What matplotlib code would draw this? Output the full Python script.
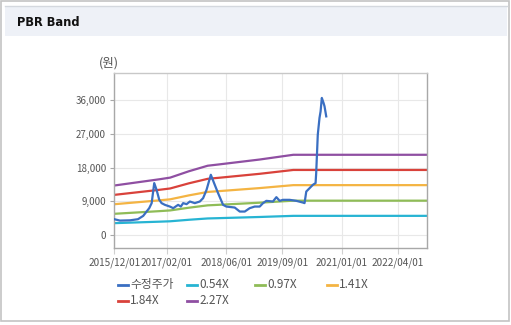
import matplotlib
matplotlib.use('Agg')
import matplotlib.pyplot as plt
import matplotlib.dates as mdates
from matplotlib.patches import Rectangle
from matplotlib.lines import Line2D
import pandas as pd

plt.rcParams['font.family'] = ['Noto Sans CJK KR', 'DejaVu Sans']

# adjusted close price (원)
price_dates = [
    '2015-12-01', '2016-01-16', '2016-04-07', '2016-06-11', '2016-07-24', '2016-09-11',
    '2016-10-01', '2016-10-22', '2016-11-10', '2016-12-02', '2016-12-21', '2017-01-17',
    '2017-02-27', '2017-03-26', '2017-05-05', '2017-05-27', '2017-06-15', '2017-07-13',
    '2017-08-09', '2017-09-18', '2017-10-29', '2017-11-25', '2017-12-23', '2018-01-27',
    '2018-02-28', '2018-03-27', '2018-05-07', '2018-06-03', '2018-08-10', '2018-09-20',
    '2018-10-31', '2018-12-10', '2019-01-20', '2019-03-02', '2019-03-29', '2019-04-25',
    '2019-06-18', '2019-07-16', '2019-08-12', '2019-09-07', '2019-11-01', '2019-12-26',
    '2020-02-17', '2020-03-02', '2020-03-16', '2020-04-12', '2020-05-09', '2020-05-31',
    '2020-06-05', '2020-06-18', '2020-07-02', '2020-07-11', '2020-07-21', '2020-08-04',
    '2020-08-12', '2020-08-26',
]
price_values = [
    4200, 3830, 3900, 4200, 5090, 7150,
    8500, 13860, 12060, 9380, 8500, 8040,
    7580, 7150, 8040, 7580, 8500, 8230,
    8930, 8500, 8930, 9830, 12060, 16080,
    13400, 11180, 8040, 7580, 7320, 6250,
    6250, 7150, 7580, 7580, 8500, 9110,
    8930, 10100, 9110, 9380, 9380, 9110,
    8660, 8500, 11600, 12500, 13400, 13860,
    16530, 26800, 31280, 33050, 36640, 35300,
    34400, 31700,
]

# book value per share behind the bands
bps_dates = ['2015-12-01', '2016-12-01', '2017-03-01', '2017-08-01', '2018-01-01',
             '2018-04-01', '2019-03-01', '2019-12-01', '2022-12-01']
bps_values = [5820, 6550, 6750, 7500, 8150, 8300, 8880, 9440, 9440]

band_multiples = [0.54, 0.97, 1.41, 1.84, 2.27]
band_labels = ['0.54X', '0.97X', '1.41X', '1.84X', '2.27X']
band_colors = ['#27b4d3', '#8fbc57', '#f4b443', '#d9423b', '#8f4fa2']
price_label = '수정주가'
price_color = '#3a6fc2'

x_ticks = ['2015-12-01', '2017-02-01', '2018-06-01', '2019-09-01', '2021-01-01', '2022-04-01']
y_ticks = [0, 9000, 18000, 27000, 36000]

W, H = 511, 325
fig = plt.figure(figsize=(W / 100, H / 100), dpi=100)
fig.patch.set_facecolor('white')

# outer frame and title bar
fig.patches.append(Rectangle((1 / W, 4 / H), 508 / W, 320 / H, transform=fig.transFigure,
                             facecolor='white', edgecolor='#c4c4c4', lw=1.2, zorder=-5))
fig.patches.append(Rectangle((5 / W, 1 - 36 / H), 502 / W, 30 / H, transform=fig.transFigure,
                             facecolor='#eef1f7', edgecolor='none', zorder=-4))
fig.add_artist(Line2D([5 / W, 507 / W], [1 - 6 / H, 1 - 6 / H], transform=fig.transFigure,
                      color='#d4d8de', lw=1))
fig.text(17 / W, 1 - 22 / H, 'PBR Band', fontsize=8.3, fontweight='bold',
         family=['DejaVu Sans'], color='#111111', va='center', ha='left')

ax = fig.add_axes([114.3 / W, 1 - 248 / H, (427.3 - 114.3) / W, (248 - 73) / H])
ax.set_zorder(2)

pdates = pd.to_datetime(price_dates)
bdates = pd.to_datetime(bps_dates)

for m, lab, col in zip(band_multiples, band_labels, band_colors):
    ax.plot(bdates, [m * b for b in bps_values], color=col, lw=1.6, label=lab)
ax.plot(pdates, price_values, color=price_color, lw=1.6, label=price_label, zorder=5)

ax.set_xlim(pd.Timestamp('2015-12-01'), pd.Timestamp('2022-11-29'))
ax.set_ylim(-3500, 43300)
ax.set_xticks(pd.to_datetime(x_ticks))
ax.xaxis.set_major_formatter(mdates.DateFormatter('%Y/%m/%d'))
ax.set_yticks(y_ticks)
ax.set_yticklabels([f'{v:,}' for v in y_ticks])

ax.grid(True, color='#e8e8e8', lw=0.8)
ax.set_axisbelow(True)
for s in ax.spines.values():
    s.set_color('#a8a8a8')
    s.set_linewidth(1.0)
ax.spines['top'].set_color('#c8c8c8')
ax.tick_params(axis='y', length=3, color='#a8a8a8', labelsize=7, labelcolor='#555555', pad=3)
ax.tick_params(axis='x', length=4, color='#d0d0d0', labelsize=7.2, labelcolor='#555555', pad=3)

fig.text(109 / W, 1 - 63 / H, '(원)', fontsize=9, color='#555555', ha='center', va='center')

# legend drawn by hand in two rows
legend_items = [(price_label, price_color)] + list(zip(band_labels, band_colors))
col_x = [118, 187, 255, 327]
row_y = [284.5, 300.5]
for i, (lab, col) in enumerate(legend_items):
    x0 = col_x[i % 4]
    y0 = row_y[i // 4]
    fig.add_artist(Line2D([x0 / W, (x0 + 10) / W], [1 - y0 / H, 1 - y0 / H],
                          transform=fig.transFigure, color=col, lw=2.0))
    fig.text((x0 + 12) / W, 1 - y0 / H, lab, fontsize=8.5, color='#555555',
             ha='left', va='center')

fig.savefig('out.png', dpi=100)
